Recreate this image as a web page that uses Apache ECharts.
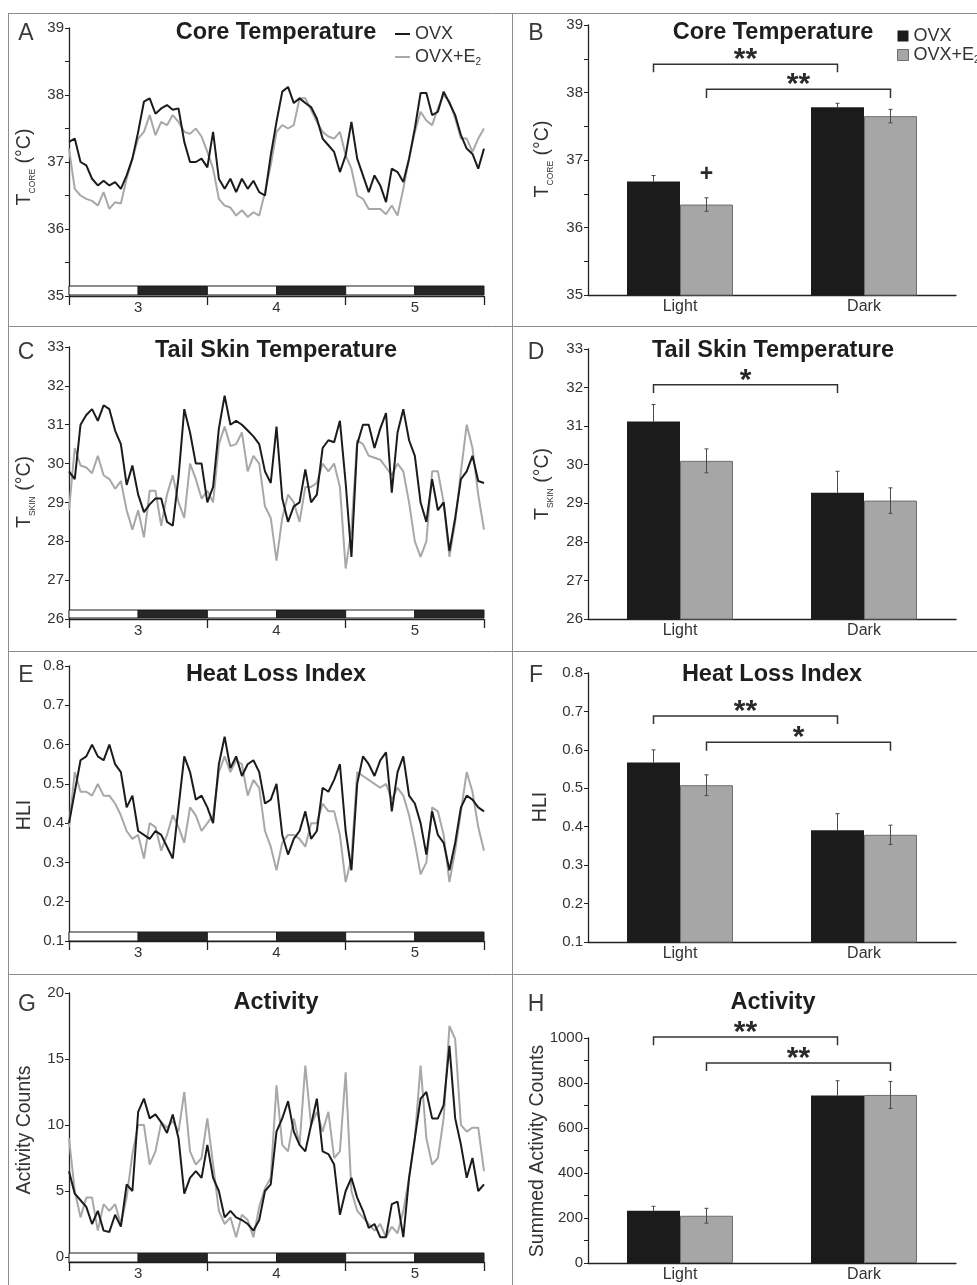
<!DOCTYPE html>
<html><head><meta charset="utf-8">
<script src="https://cdn.jsdelivr.net/npm/echarts@6/dist/echarts.min.js"></script>
<style>html,body{margin:0;padding:0;background:#fff}#c{width:977px;height:1285px}</style>
</head><body><div id="c"></div>
<script>
// ---------- data ----------
const SERIES_NAMES = ['OVX', 'OVX+E2'];
const DAY_LABELS = ['3', '4', '5'];
const PHASES = [[0,12,0],[12,24,1],[24,36,0],[36,48,1],[48,60,0],[60,72,1]]; // [start h, end h, dark]
const CATEGORIES = ['Light', 'Dark'];

// hourly traces (hour 0..72)
const A_OVX = [37.3,37.35,37.0,36.95,36.75,36.65,36.72,36.65,36.7,36.6,
 36.8,37.05,37.45,37.9,37.95,37.72,37.8,37.85,37.78,37.8,
 37.3,37.0,37.0,37.05,36.92,37.45,36.75,36.6,36.75,36.55,
 36.75,36.6,36.72,36.55,36.5,37.1,37.6,38.05,38.12,37.88,
 37.95,37.88,37.82,37.65,37.35,37.25,37.15,36.85,37.1,37.6,
 37.05,36.8,36.55,36.8,36.65,36.4,36.9,36.85,36.7,37.05,
 37.5,38.03,38.03,37.7,37.75,38.05,37.88,37.7,37.4,37.2,
 37.12,36.9,37.2];
const A_E2 = [37.2,36.6,36.5,36.45,36.42,36.35,36.55,36.3,36.4,36.38,
 36.75,37.05,37.35,37.45,37.7,37.4,37.6,37.55,37.7,37.6,
 37.45,37.42,37.5,37.38,37.15,36.9,36.45,36.35,36.32,36.2,
 36.28,36.18,36.25,36.2,36.55,36.95,37.45,37.55,37.5,37.55,
 37.95,37.95,37.78,37.6,37.45,37.38,37.35,37.45,37.1,36.9,
 36.5,36.45,36.3,36.3,36.3,36.22,36.35,36.2,36.6,37.05,
 37.45,37.75,37.62,37.55,37.8,38.0,37.9,37.65,37.35,37.35,
 37.15,37.35,37.5];
const C_OVX = [29.8,29.6,31.0,31.25,31.4,31.1,31.5,31.4,30.85,30.5,
 29.45,29.95,29.2,28.75,28.95,29.1,29.1,28.5,28.4,29.65,
 31.4,30.8,30.0,30.0,29.0,29.4,30.9,31.75,31.0,31.1,
 31.0,30.85,30.7,30.5,29.8,29.5,30.95,29.1,28.5,28.9,
 29.0,29.85,29.0,29.2,30.4,30.6,30.55,31.1,29.5,27.6,
 30.5,31.0,31.0,30.4,30.9,31.3,29.25,30.8,31.4,30.6,
 30.2,29.0,28.5,29.6,28.8,29.0,27.75,28.6,29.6,29.8,
 30.2,29.55,29.5];
const C_E2 = [28.8,30.4,29.95,29.9,29.75,30.2,29.7,29.6,29.35,29.55,
 28.8,28.3,28.8,28.1,29.3,29.3,28.4,29.2,29.7,29.0,
 28.6,30.0,29.6,29.1,29.3,29.0,30.5,30.95,30.45,30.5,
 30.8,29.8,30.2,30.0,28.9,28.6,27.5,28.6,29.2,29.0,
 28.5,29.4,29.4,29.5,30.0,29.8,30.0,29.4,27.3,28.3,
 30.6,30.5,30.2,30.15,30.1,29.9,29.7,30.0,29.8,29.0,
 28.0,27.6,28.0,29.8,29.8,29.0,27.6,28.5,29.8,31.0,
 30.4,29.2,28.3];
const E_OVX = [0.40,0.48,0.56,0.57,0.60,0.57,0.56,0.60,0.55,0.53,
 0.44,0.47,0.38,0.37,0.36,0.38,0.37,0.34,0.31,0.44,
 0.57,0.53,0.46,0.47,0.44,0.40,0.55,0.62,0.54,0.57,
 0.52,0.55,0.56,0.53,0.45,0.46,0.50,0.37,0.32,0.36,
 0.38,0.43,0.36,0.38,0.49,0.48,0.51,0.55,0.38,0.28,
 0.50,0.57,0.55,0.52,0.56,0.58,0.43,0.53,0.57,0.47,
 0.45,0.40,0.32,0.43,0.37,0.35,0.28,0.35,0.44,0.47,
 0.46,0.44,0.43];
const E_E2 = [0.39,0.53,0.48,0.48,0.47,0.50,0.47,0.47,0.45,0.42,
 0.38,0.36,0.37,0.31,0.40,0.39,0.33,0.37,0.42,0.39,
 0.35,0.44,0.42,0.38,0.40,0.42,0.53,0.57,0.53,0.56,
 0.55,0.47,0.51,0.49,0.38,0.34,0.28,0.35,0.37,0.37,
 0.36,0.34,0.40,0.40,0.45,0.43,0.43,0.37,0.25,0.31,
 0.53,0.52,0.51,0.50,0.49,0.50,0.46,0.49,0.47,0.42,
 0.35,0.27,0.30,0.44,0.43,0.37,0.25,0.33,0.43,0.53,
 0.48,0.39,0.33];
const G_OVX = [6.5,4.8,4.3,3.8,2.5,3.5,2.0,1.9,3.2,2.3,
 5.5,5.0,11.0,12.0,10.5,10.8,10.2,9.4,10.8,9.0,
 4.8,6.0,6.5,6.0,8.5,6.0,5.0,3.0,3.5,3.0,
 2.8,2.5,2.0,2.8,5.0,5.5,9.5,10.5,11.8,9.5,
 8.5,8.0,10.0,12.0,8.0,7.8,7.0,3.2,5.0,6.0,
 4.5,3.5,2.2,2.5,1.5,1.5,4.0,4.2,1.5,6.0,
 9.0,12.0,12.5,10.5,10.5,11.5,16.0,10.5,8.5,6.0,
 7.5,5.0,5.5];
const G_E2 = [9.0,5.0,3.0,4.5,4.5,2.0,4.0,3.5,4.0,2.5,
 4.5,7.8,10.0,10.0,7.0,8.0,10.2,9.8,10.3,9.5,
 12.5,8.0,7.0,7.5,10.5,7.0,3.5,2.5,3.0,1.5,
 3.2,2.8,1.5,3.8,5.2,6.0,13.0,8.5,8.0,10.5,
 8.5,14.5,10.0,11.0,9.5,11.0,7.5,8.0,14.0,5.0,
 3.5,3.0,2.5,2.0,2.5,1.5,2.3,1.8,3.5,6.0,
 9.0,14.5,9.0,7.0,7.5,10.5,17.5,16.5,10.0,9.5,
 9.8,9.8,6.5];

// bar means and SEM  [Light, Dark]
const B_OVX = [36.68, 37.78], B_OVX_SE = [0.09, 0.06];
const B_E2  = [36.34, 37.65], B_E2_SE  = [0.10, 0.10];
const D_OVX = [31.12, 29.27], D_OVX_SE = [0.44, 0.56];
const D_E2  = [30.10, 29.07], D_E2_SE  = [0.31, 0.33];
const F_OVX = [0.567, 0.391], F_OVX_SE = [0.033, 0.043];
const F_E2  = [0.508, 0.379], F_E2_SE  = [0.027, 0.025];
const H_OVX = [232, 744], H_OVX_SE = [20, 66];
const H_E2  = [210, 747], H_E2_SE  = [33, 60];

// significance annotations: a/b = [category, series], y = bracket level, drop = leg length
const B_NOTES = [{a:[0,0], b:[1,0], y:38.42, drop:0.12, t:'**'},
                 {a:[0,1], b:[1,1], y:38.05, drop:0.13, t:'**'},
                 {a:[0,1], y:36.78, t:'+'}];
const D_NOTES = [{a:[0,0], b:[1,0], y:32.07, drop:0.21, t:'*'}];
const F_NOTES = [{a:[0,0], b:[1,0], y:0.688, drop:0.021, t:'**'},
                 {a:[0,1], b:[1,1], y:0.620, drop:0.022, t:'*'}];
const H_NOTES = [{a:[0,0], b:[1,0], y:1004, drop:36, t:'**'},
                 {a:[0,1], b:[1,1], y:889, drop:36, t:'**'}];

// ---------- styling / building ----------
const FONT = '"Liberation Sans", Arial, Helvetica, sans-serif';
const BLACK = '#1b1b1b', GRAY = '#a8a8a8', BAR_GRAY = '#a6a6a6', TXT = '#333';
const BAR_FRAC = 0.288;
const TICK_FS = 15;

const grids = [], xAxes = [], yAxes = [], series = [];

function addYAxis(gi, y) {
  yAxes.push({
    type: 'value', gridIndex: gi, min: y.min, max: y.max, interval: y.interval,
    axisLine: {show: true, onZero: false, lineStyle: {color: '#222', width: 1.3}},
    axisTick: {show: true, length: 4, lineStyle: {color: '#222', width: 1}},
    minorTick: {show: !!y.minor, splitNumber: 2, length: 4, lineStyle: {color: '#222', width: 1}},
    splitLine: {show: false}, minorSplitLine: {show: false},
    axisLabel: {color: TXT, fontSize: TICK_FS, fontFamily: FONT, margin: 5,
      formatter: v => String(Math.round(v * 1000) / 1000)}
  });
  return yAxes.length - 1;
}

function dayBar(base, topOff, h) {
  return function (params, api) {
    const p0 = api.coord([api.value(0), base]);
    const p1 = api.coord([api.value(1), base]);
    return {type: 'rect', shape: {x: p0[0], y: p0[1] - topOff, width: p1[0] - p0[0], height: h},
      style: {fill: api.value(2) ? '#262626' : '#ffffff', stroke: '#1b1b1b', lineWidth: 1}};
  };
}

function linePanel(layout, y, ovx, e2) {
  const gi = grids.length;
  grids.push(Object.assign({containLabel: false, outerBoundsMode: 'none'}, layout.grid));
  const yi = addYAxis(gi, y);
  const off = layout.xOffset || 0;
  xAxes.push({type: 'value', gridIndex: gi, position: 'bottom', min: 0, max: 72, interval: 24, offset: off,
    axisLine: {show: true, onZero: false, lineStyle: {color: '#222', width: 1.3}},
    axisTick: {show: true, length: 9, lineStyle: {color: '#222', width: 1.3}},
    axisLabel: {show: false}, splitLine: {show: false}});
  const xt = xAxes.length - 1;
  xAxes.push({type: 'value', gridIndex: gi, position: 'bottom', min: 0, max: 72, interval: 12, offset: off,
    axisLine: {show: false}, axisTick: {show: false}, splitLine: {show: false},
    axisLabel: {color: TXT, fontSize: TICK_FS, fontFamily: FONT, margin: 4,
      formatter: v => (v % 24 === 12 ? DAY_LABELS[(v - 12) / 24] : '')}});
  series.push({type: 'line', name: SERIES_NAMES[1], xAxisIndex: xt, yAxisIndex: yi,
    data: e2.map((v, i) => [i, v]), showSymbol: false, z: 2,
    lineStyle: {color: GRAY, width: 2}, itemStyle: {color: GRAY}});
  series.push({type: 'line', name: SERIES_NAMES[0], xAxisIndex: xt, yAxisIndex: yi,
    data: ovx.map((v, i) => [i, v]), showSymbol: false, z: 3,
    lineStyle: {color: BLACK, width: 2}, itemStyle: {color: BLACK}});
  series.push({type: 'custom', xAxisIndex: xt, yAxisIndex: yi, data: PHASES, silent: true, z: 4,
    renderItem: dayBar(y.min, layout.barTop, layout.barH)});
}

function errItem(params, api) {
  const c = api.value(0), m = api.value(1), se = api.value(2), s = api.value(3);
  const bw = api.size([1, 0])[0] * BAR_FRAC;
  const x = api.coord([c, m])[0] + (s === 0 ? -bw / 2 : bw / 2);
  const yHi = api.coord([c, m + se])[1];
  const yLo = api.coord([c, s === 0 ? m : m - se])[1];
  const st = {stroke: '#4a4a4a', lineWidth: 1};
  const ch = [
    {type: 'line', shape: {x1: x, y1: yHi, x2: x, y2: yLo}, style: st},
    {type: 'line', shape: {x1: x - 2, y1: yHi, x2: x + 2, y2: yHi}, style: st}
  ];
  if (s === 1) ch.push({type: 'line', shape: {x1: x - 2, y1: yLo, x2: x + 2, y2: yLo}, style: st});
  return {type: 'group', children: ch};
}

function noteItem(notes) {
  return function (params, api) {
    const n = notes[params.dataIndex];
    const bw = api.size([1, 0])[0] * BAR_FRAC;
    const xc = p => api.coord([p[0], n.y])[0] + (p[1] === 0 ? -bw / 2 : bw / 2);
    const y = api.coord([n.a[0], n.y])[1];
    if (!n.b) {
      return {type: 'text', x: xc(n.a), y: y,
        style: {text: n.t, fill: '#2a2a2a', font: 'bold 23px ' + FONT, align: 'center', verticalAlign: 'middle',
                textAlign: 'center', textVerticalAlign: 'middle'}};
    }
    const yEnd = api.coord([n.a[0], n.y - n.drop])[1];
    const xa = xc(n.a), xb = xc(n.b);
    return {type: 'group', children: [
      {type: 'polyline', shape: {points: [[xa, yEnd], [xa, y], [xb, y], [xb, yEnd]]},
        style: {stroke: '#333', lineWidth: 1.5, fill: null}},
      {type: 'text', x: (xa + xb) / 2, y: y - 4,
        style: {text: n.t, fill: '#2a2a2a', font: 'bold 30px ' + FONT, align: 'center', verticalAlign: 'middle',
                textAlign: 'center', textVerticalAlign: 'middle'}}
    ]};
  };
}

function barPanel(layout, y, ovx, ovxSe, e2, e2Se, notes) {
  const gi = grids.length;
  grids.push(Object.assign({containLabel: false, outerBoundsMode: 'none'}, layout.grid));
  const yi = addYAxis(gi, y);
  xAxes.push({type: 'category', gridIndex: gi, position: 'bottom', data: CATEGORIES,
    axisLine: {show: true, onZero: false, lineStyle: {color: '#222', width: 1.3}},
    axisTick: {show: false}, splitLine: {show: false},
    axisLabel: {color: TXT, fontSize: 16, fontFamily: FONT, margin: 4}});
  const xi = xAxes.length - 1;
  series.push({type: 'bar', name: SERIES_NAMES[0], xAxisIndex: xi, yAxisIndex: yi, data: ovx,
    barWidth: (BAR_FRAC * 100) + '%', barGap: '0%', itemStyle: {color: BLACK}});
  series.push({type: 'bar', name: SERIES_NAMES[1], xAxisIndex: xi, yAxisIndex: yi, data: e2,
    barWidth: (BAR_FRAC * 100) + '%', barGap: '0%',
    itemStyle: {color: BAR_GRAY, borderColor: '#6f6f6f', borderWidth: 1}});
  const eb = [];
  ovx.forEach((m, i) => eb.push([i, m, ovxSe[i], 0]));
  e2.forEach((m, i) => eb.push([i, m, e2Se[i], 1]));
  series.push({type: 'custom', xAxisIndex: xi, yAxisIndex: yi, data: eb, silent: true, z: 5, renderItem: errItem});
  series.push({type: 'custom', xAxisIndex: xi, yAxisIndex: yi, data: notes.map(n => [n.a[0], n.y]),
    silent: true, z: 5, renderItem: noteItem(notes)});
}

// panels: A C E G (time courses), B D F H (bar summaries)
linePanel({grid: {left: 69, top: 28, width: 415, height: 268}, barTop: 10, barH: 9},
  {min: 35, max: 39, interval: 1, minor: true}, A_OVX, A_E2);
barPanel({grid: {left: 588, top: 25, width: 368, height: 270}},
  {min: 35, max: 39, interval: 1, minor: true}, B_OVX, B_OVX_SE, B_E2, B_E2_SE, B_NOTES);
linePanel({grid: {left: 69, top: 347, width: 415, height: 272}, barTop: 9, barH: 8},
  {min: 26, max: 33, interval: 1}, C_OVX, C_E2);
barPanel({grid: {left: 588, top: 349, width: 368, height: 270}},
  {min: 26, max: 33, interval: 1}, D_OVX, D_OVX_SE, D_E2, D_E2_SE, D_NOTES);
linePanel({grid: {left: 69, top: 666, width: 415, height: 275}, barTop: 9, barH: 9},
  {min: 0.1, max: 0.8, interval: 0.1}, E_OVX, E_E2);
barPanel({grid: {left: 588, top: 673, width: 368, height: 269}},
  {min: 0.1, max: 0.8, interval: 0.1}, F_OVX, F_OVX_SE, F_E2, F_E2_SE, F_NOTES);
linePanel({grid: {left: 69, top: 993, width: 415, height: 264}, barTop: 4, barH: 9, xOffset: 5},
  {min: 0, max: 20, interval: 5}, G_OVX, G_E2);
barPanel({grid: {left: 588, top: 1038, width: 368, height: 225}},
  {min: 0, max: 1000, interval: 200, minor: true}, H_OVX, H_OVX_SE, H_E2, H_E2_SE, H_NOTES);

// ---------- decorations (frame, titles, letters, axis names) ----------
const FRAME = '#8c8c8c';
const graphic = [];
function hline(y, x1, x2) { graphic.push({type: 'line', shape: {x1: x1, y1: y, x2: x2, y2: y}, style: {stroke: FRAME, lineWidth: 1}, silent: true}); }
function vline(x, y1, y2) { graphic.push({type: 'line', shape: {x1: x, y1: y1, x2: x, y2: y2}, style: {stroke: FRAME, lineWidth: 1}, silent: true}); }
hline(13.5, 8, 977); hline(326.5, 8, 977); hline(651.5, 8, 977); hline(974.5, 8, 977);
vline(8.5, 13, 1285); vline(512.5, 13, 1285);

function txt(text, x, y, font, color) {
  graphic.push({type: 'text', x: x, y: y, silent: true,
    style: {text: text, font: font, fill: color, align: 'center', verticalAlign: 'middle', textAlign: 'center', textVerticalAlign: 'middle'}});
}
const TITLE_FONT = 'bold 23.5px ' + FONT, LETTER_FONT = '23px ' + FONT;
[['Core Temperature', 276, 33], ['Core Temperature', 773, 33],
 ['Tail Skin Temperature', 276, 351], ['Tail Skin Temperature', 773, 351],
 ['Heat Loss Index', 276, 675], ['Heat Loss Index', 772, 675],
 ['Activity', 276, 1003], ['Activity', 773, 1003]].forEach(t => txt(t[0], t[1], t[2], TITLE_FONT, '#1e1e1e'));
[['A', 26, 34], ['B', 536, 34], ['C', 26, 353], ['D', 536, 353],
 ['E', 26, 676], ['F', 536, 676], ['G', 27, 1005], ['H', 536, 1005]].forEach(t => txt(t[0], t[1], t[2], LETTER_FONT, '#3a3a3a'));

function axisName(main, sub, x, y) {
  const text = sub ? '{t|' + main + '}{s|' + sub + '}{t| (°C)}' : '{t|' + main + '}';
  graphic.push({type: 'text', x: x, y: y, rotation: Math.PI / 2, silent: true,
    style: {text: text, align: 'center', verticalAlign: 'middle', textAlign: 'center', textVerticalAlign: 'middle',
      rich: {t: {fontSize: 19.5, fontFamily: FONT, fill: TXT, lineHeight: 24},
             s: {fontSize: 8.5, fontFamily: FONT, fill: TXT, lineHeight: 15, verticalAlign: 'bottom'}}}});
}
axisName('T', 'CORE', 25, 167); axisName('T', 'CORE', 543, 159);
axisName('T', 'SKIN', 25, 492); axisName('T', 'SKIN', 543, 484);
axisName('HLI', null, 25, 815); axisName('HLI', null, 541, 807);
axisName('Activity Counts', null, 25, 1130); axisName('Summed Activity Counts', null, 538, 1151);

const legendText = {color: TXT, fontSize: 18, fontFamily: FONT,
  rich: {n: {fontSize: 18, fontFamily: FONT, color: TXT, lineHeight: 20},
         s: {fontSize: 10, fontFamily: FONT, color: TXT, lineHeight: 12, verticalAlign: 'bottom'}}};
const legendFmt = name => (name === 'OVX+E2' ? '{n|OVX+E}{s|2}' : '{n|' + name + '}');

const option = {
  animation: false,
  backgroundColor: '#ffffff',
  textStyle: {fontFamily: FONT},
  grid: grids, xAxis: xAxes, yAxis: yAxes, series: series, graphic: graphic,
  legend: [
    {left: 390, top: 20, orient: 'vertical', icon: 'rect', itemWidth: 15, itemHeight: 2, itemGap: 5,
      selectedMode: false, itemStyle: {borderWidth: 0}, textStyle: legendText, formatter: legendFmt,
      data: [{name: 'OVX', itemStyle: {color: BLACK, borderWidth: 0}}, {name: 'OVX+E2', itemStyle: {color: GRAY, borderWidth: 0}}]},
    {left: 892, top: 22, orient: 'vertical', icon: 'rect', itemWidth: 11, itemHeight: 11, itemGap: 1,
      selectedMode: false, textStyle: legendText, formatter: legendFmt,
      data: [{name: 'OVX', itemStyle: {color: BLACK, borderWidth: 0}},
             {name: 'OVX+E2', itemStyle: {color: BAR_GRAY, borderColor: '#6f6f6f', borderWidth: 1}}]}
  ]
};
const chart = echarts.init(document.getElementById('c'), null, {renderer: 'canvas'});
chart.setOption(option);
</script>
</body></html>
